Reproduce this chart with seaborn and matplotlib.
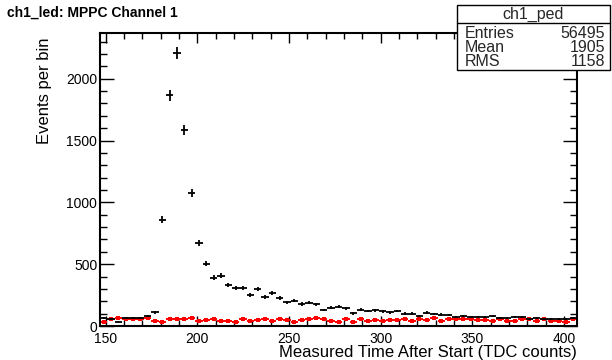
import numpy as np
import pandas as pd
import matplotlib
matplotlib.use("Agg")
import matplotlib.pyplot as plt
from matplotlib.patches import Rectangle
from matplotlib.lines import Line2D
from matplotlib.ticker import MultipleLocator
import seaborn as sns

# histogram definition (TDC counts, bin width 4)
bin_width = 4
bin_centers = list(range(149, 406, 4))

led_counts = [62, 60, 35, 62, 62, 67, 81, 111, 860, 1865, 2210, 1585, 1075, 670, 505,
              390, 405, 330, 305, 308, 250, 300, 237, 264, 224, 192, 205, 178, 189, 175,
              129, 146, 156, 143, 103, 132, 121, 127, 119, 111, 121, 100, 100, 81, 108,
              97, 92, 89, 75, 83, 75, 75, 75, 83, 65, 62, 75, 70, 60, 62,
              57, 57, 57, 60, 65]
ped_counts = [35, 54, 62, 54, 54, 54, 67, 40, 35, 54, 54, 54, 67, 40, 49,
              59, 40, 42, 35, 57, 43, 49, 54, 43, 54, 49, 30, 49, 57, 62,
              54, 43, 35, 54, 35, 57, 40, 49, 43, 49, 49, 54, 43, 57, 46,
              62, 43, 54, 59, 59, 54, 49, 49, 38, 54, 43, 43, 54, 57, 43,
              54, 40, 43, 30, 54]

title = "ch1_led: MPPC Channel 1"
x_title = "Measured Time After Start (TDC counts)"
y_title = "Events per bin"
stats_name = "ch1_ped"
stats_labels = ["Entries", "Mean", "RMS"]
stats_values = ["56495", "1905", "1158"]
x_range = (147, 407)
y_range = (0, 2370)

df = pd.DataFrame({"x": bin_centers, "led": led_counts, "ped": ped_counts})
df["led_err"] = np.sqrt(df["led"])
df["ped_err"] = np.sqrt(df["ped"])

sns.set_theme(style="white")
plt.rcParams["font.family"] = ["Liberation Sans", "DejaVu Sans"]

W, H = 612, 360
fig = plt.figure(figsize=(W / 100, H / 100), dpi=100)
fig.patch.set_facecolor("white")

L, R, T, B = 100, 577, 33, 326
ax = fig.add_axes([L / W, 1 - B / H, (R - L) / W, (B - T) / H])
ax.set_facecolor("white")

# pedestal (red)
ax.errorbar(df["x"], df["ped"], xerr=bin_width / 2, yerr=df["ped_err"], fmt="none",
            ecolor="#ff0000", elinewidth=1.4, capsize=0, zorder=2)
sns.scatterplot(data=df, x="x", y="ped", ax=ax, color="#ff0000", marker="s", s=7,
                linewidth=0, zorder=3, legend=False)
# led (black)
ax.errorbar(df["x"], df["led"], xerr=bin_width / 2, yerr=df["led_err"], fmt="none",
            ecolor="black", elinewidth=1.3, capsize=0, zorder=4)

ax.set_xlim(*x_range)
ax.set_ylim(*y_range)
ax.xaxis.set_major_locator(MultipleLocator(50))
ax.xaxis.set_minor_locator(MultipleLocator(10))
ax.yaxis.set_major_locator(MultipleLocator(500))
ax.yaxis.set_minor_locator(MultipleLocator(100))
ax.tick_params(which="both", direction="in", top=True, right=True, bottom=True, left=True,
               colors="black", labelsize=10, width=1)
ax.tick_params(axis="y", which="major", length=10, pad=2)
ax.tick_params(axis="y", which="minor", length=5)
ax.tick_params(axis="x", which="major", length=7, pad=4.5)
ax.tick_params(axis="x", which="minor", length=4)
for s in ax.spines.values():
    s.set_color("black")
    s.set_linewidth(1.5)
ax.set_xlabel("")
ax.set_ylabel("")

fig.text(R / W, 1 - 353 / H, x_title, ha="right", va="center", fontsize=12, color="black")
fig.text(45 / W, 1 - 38 / H, y_title, ha="center", va="top", rotation=90, fontsize=12,
         color="black")
fig.text(7 / W, 1 - 12.5 / H, title, ha="left", va="center", fontsize=10,
         fontweight="bold", color="black")

# stats box
bx0, by0, bx1, by1 = 457, 5, 610, 70
fig.add_artist(Rectangle((bx0 / W, 1 - by1 / H), (bx1 - bx0) / W, (by1 - by0) / H,
                         transform=fig.transFigure, facecolor="white", edgecolor="black",
                         linewidth=1, zorder=10))
fig.add_artist(Line2D([bx0 / W, bx1 / W], [1 - 23 / H, 1 - 23 / H],
                      transform=fig.transFigure, color="black", linewidth=1, zorder=11))
fig.text((bx0 + bx1) / 2 / W, 1 - 14 / H, stats_name, ha="center", va="center",
         fontsize=11.5, zorder=12)
for i, (lab, val) in enumerate(zip(stats_labels, stats_values)):
    yy = 1 - (34 + 14 * i) / H
    fig.text(465 / W, yy, lab, ha="left", va="center", fontsize=11.5, zorder=12)
    fig.text(605 / W, yy, val, ha="right", va="center", fontsize=11.5, zorder=12)

fig.savefig("out.png", dpi=100)
